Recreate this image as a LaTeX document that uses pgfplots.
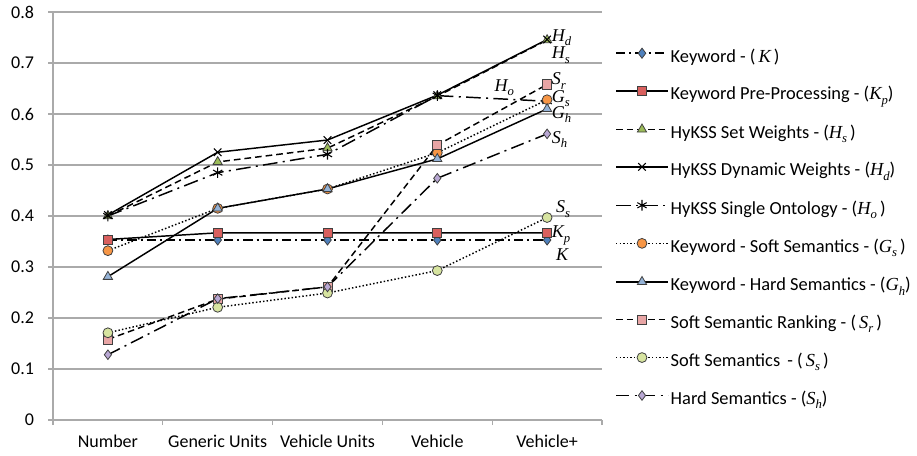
\documentclass[border=0pt]{standalone}
\usepackage{pgfplots}
\pgfplotsset{compat=1.18}
\usepackage{fontspec}
\setmainfont{Carlito}
\newfontfamily\tim{Liberation Serif}
\newcommand\lab[2]{{\tim\itshape #1\raisebox{-0.5ex}{\fontsize{9.5}{10}\selectfont #2}}}
\definecolor{cK}{RGB}{79,129,189}
\definecolor{cKp}{RGB}{217,96,94}
\definecolor{cHs}{RGB}{155,187,89}
\definecolor{cGs}{RGB}{247,150,70}
\definecolor{cGh}{RGB}{149,179,215}
\definecolor{cSr}{RGB}{232,165,165}
\definecolor{cSs}{RGB}{215,228,160}
\definecolor{cSh}{RGB}{185,168,212}
\definecolor{gridc}{RGB}{170,170,170}
\begin{document}
\begin{tikzpicture}
\useasboundingbox (0,0) rectangle (687.75pt,341.25pt);
\begin{axis}[
  at={(39.75pt,26.25pt)}, anchor=south west,
  scale only axis, width=411.75pt, height=306pt,
  xmin=-0.5, xmax=4.5, ymin=0, ymax=0.8,
  axis x line*=bottom, axis y line*=left,
  axis line style={gridc, line width=1pt},
  ytick={0,0.1,0.2,0.3,0.4,0.5,0.6,0.7,0.8},
  yticklabels={0,0.1,0.2,0.3,0.4,0.5,0.6,0.7,0.8},
  ymajorgrids, grid style={gridc, line width=1pt},
  tick style={gridc, line width=1pt}, tick align=outside, major tick length=3.75pt,
  xtick={-0.5,0.5,1.5,2.5,3.5,4.5}, xticklabels={},
  extra x ticks={0,1,2,3,4},
  extra x tick labels={Number,Generic Units,Vehicle Units,Vehicle,Vehicle+},
  extra x tick style={major tick length=0pt, grid=none},
  ticklabel style={font=\fontsize{13.5}{16}\selectfont},
  xticklabel style={yshift=-8pt},
  yticklabel style={xshift=-7pt},
  clip=false,
  legend style={draw=none, fill=none, at={(1.0237,0.469)}, anchor=west,
    font=\fontsize{13.8}{16}\selectfont, row sep=14.6pt, column sep=1.5pt,
    inner sep=0pt, nodes={inner sep=0pt, text height=10pt, text depth=3.5pt}},
  legend cell align=left,
  legend image code/.code={\draw[mark repeat=2,mark phase=2,#1] plot coordinates {(0pt,3.5pt) (19.5pt,3.5pt) (39pt,3.5pt)};},
  every axis plot/.append style={black, line width=1.1pt},
]
\addplot[dash pattern=on 7pt off 3pt on 1.5pt off 3pt, mark=diamond*, mark size=3.8pt, mark options={solid, fill=cK, draw=black!75, line width=0.6pt}]
  coordinates {(0,0.353)(1,0.353)(2,0.353)(3,0.353)(4,0.353)};
\addlegendentry{Keyword - (\,\lab{K}{}\,)}
\addplot[solid, mark=square*, mark size=3.4pt, mark options={solid, fill=cKp, draw=black!75, line width=0.6pt}]
  coordinates {(0,0.354)(1,0.367)(2,0.367)(3,0.367)(4,0.367)};
\addlegendentry{Keyword Pre-Processing - (\lab{K}{p})}
\addplot[dash pattern=on 5pt off 3pt, mark=triangle*, mark size=4pt, mark options={solid, fill=cHs, draw=black!75, line width=0.6pt}]
  coordinates {(0,0.400)(1,0.506)(2,0.533)(3,0.635)(4,0.745)};
\addlegendentry{HyKSS Set Weights - (\lab{H}{s}\,)}
\addplot[solid, mark=x, mark size=4pt, mark options={solid, line width=0.8pt}]
  coordinates {(0,0.402)(1,0.525)(2,0.549)(3,0.637)(4,0.746)};
\addlegendentry{HyKSS Dynamic Weights - (\lab{H}{d})}
\addplot[dash pattern=on 11pt off 4pt on 1.5pt off 4pt, mark=asterisk, mark size=4pt, mark options={solid, line width=0.8pt}]
  coordinates {(0,0.400)(1,0.485)(2,0.521)(3,0.636)(4,0.625)};
\addlegendentry{HyKSS Single Ontology - (\lab{H}{o}\,)}
\addplot[dash pattern=on 1.1pt off 1.6pt, mark=*, mark size=3.7pt, mark options={solid, fill=cGs, draw=black!75, line width=0.6pt}]
  coordinates {(0,0.332)(1,0.415)(2,0.453)(3,0.524)(4,0.628)};
\addlegendentry{Keyword - Soft Semantics - (\lab{G}{s}\,)}
\addplot[solid, mark=triangle*, mark size=4pt, mark options={solid, fill=cGh, draw=black!75, line width=0.6pt}]
  coordinates {(0,0.281)(1,0.415)(2,0.453)(3,0.512)(4,0.610)};
\addlegendentry{Keyword - Hard Semantics - (\lab{G}{h})}
\addplot[dash pattern=on 5pt off 3pt, mark=square*, mark size=3.4pt, mark options={solid, fill=cSr, draw=black!75, line width=0.6pt}]
  coordinates {(0,0.158)(1,0.237)(2,0.261)(3,0.539)(4,0.658)};
\addlegendentry{Soft Semantic Ranking - (\,\lab{S}{r}\,)}
\addplot[dash pattern=on 1.1pt off 1.6pt, mark=*, mark size=3.7pt, mark options={solid, fill=cSs, draw=black!75, line width=0.6pt}]
  coordinates {(0,0.171)(1,0.221)(2,0.249)(3,0.293)(4,0.397)};
\addlegendentry{Soft Semantics \,- (\,\lab{S}{s}\,)}
\addplot[dash pattern=on 10pt off 4pt on 1.5pt off 4pt, mark=diamond*, mark size=3.6pt, mark options={solid, fill=cSh, draw=black!75, line width=0.6pt}]
  coordinates {(0,0.128)(1,0.238)(2,0.261)(3,0.474)(4,0.561)};
\addlegendentry{Hard Semantics - (\lab{S}{h})}
\begin{scope}[every node/.style={anchor=base west, inner sep=0pt, font=\fontsize{13.5}{16}\selectfont}]
\node at (axis cs:4.04,0.743) {\lab{H}{d}};
\node at (axis cs:4.04,0.708) {\lab{H}{s}};
\node at (axis cs:4.04,0.657) {\lab{S}{r}};
\node at (axis cs:4.04,0.623) {\lab{G}{s}};
\node at (axis cs:4.04,0.591) {\lab{G}{h}};
\node at (axis cs:4.04,0.543) {\lab{S}{h}};
\node at (axis cs:4.08,0.406) {\lab{S}{s}};
\node at (axis cs:4.04,0.357) {\lab{K}{p}};
\node at (axis cs:4.08,0.313) {\lab{K}{}};
\node at (axis cs:3.52,0.645) {\lab{H}{o}};
\end{scope}
\end{axis}
\end{tikzpicture}
\end{document}
